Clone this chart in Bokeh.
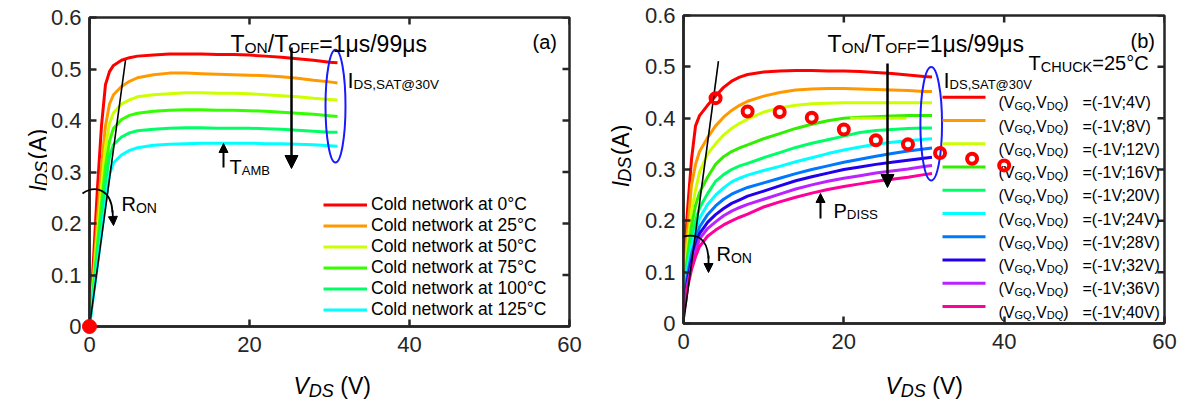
import math
from bokeh.plotting import figure
from bokeh.models import (FixedTicker, Label, Arrow, NormalHead, Legend,
                          LegendItem, Range1d, CustomJSTickFormatter)
from bokeh.layouts import row, column
from bokeh.embed import file_html
from bokeh.resources import INLINE

FONT = "Liberation Sans"
AXC = "#262626"

# ---------------- data: panel (a) ----------------
vds_a = [0, 0.5, 1, 1.5, 2, 2.5, 3, 4, 5, 6, 8, 10, 12, 14, 16, 18, 20, 22, 24, 26, 28, 30, 31]
ids_a_0C = [0, 0.13, 0.27, 0.39, 0.47, 0.495, 0.507, 0.517, 0.522, 0.525, 0.527, 0.529, 0.529, 0.529, 0.528, 0.528, 0.527, 0.525, 0.523, 0.52, 0.517, 0.513, 0.512]
ids_a_25C = [0, 0.1, 0.21, 0.31, 0.39, 0.432, 0.45, 0.466, 0.476, 0.483, 0.489, 0.492, 0.492, 0.491, 0.49, 0.489, 0.488, 0.487, 0.485, 0.482, 0.478, 0.475, 0.473]
ids_a_50C = [0, 0.09, 0.18, 0.27, 0.35, 0.395, 0.415, 0.432, 0.44, 0.446, 0.45, 0.452, 0.454, 0.454, 0.453, 0.453, 0.452, 0.45, 0.448, 0.446, 0.443, 0.441, 0.44]
ids_a_75C = [0, 0.08, 0.16, 0.24, 0.31, 0.36, 0.385, 0.402, 0.41, 0.414, 0.418, 0.42, 0.421, 0.421, 0.42, 0.42, 0.419, 0.418, 0.416, 0.414, 0.412, 0.409, 0.408]
ids_a_100C = [0, 0.07, 0.14, 0.21, 0.28, 0.33, 0.353, 0.368, 0.376, 0.38, 0.383, 0.385, 0.386, 0.386, 0.385, 0.385, 0.385, 0.384, 0.383, 0.381, 0.379, 0.377, 0.377]
ids_a_125C = [0, 0.06, 0.12, 0.18, 0.24, 0.295, 0.318, 0.333, 0.342, 0.347, 0.352, 0.354, 0.355, 0.356, 0.356, 0.356, 0.356, 0.355, 0.355, 0.354, 0.353, 0.351, 0.35]
labels_a = ["Cold network at 0°C", "Cold network at 25°C", "Cold network at 50°C",
            "Cold network at 75°C", "Cold network at 100°C", "Cold network at 125°C"]
colors_a = ["#ff0000", "#ff9900", "#ccff00", "#33ff00", "#00ff66", "#00ffff"]
ron_a_v = [0, 4.5]
ron_a_i = [0, 0.517]
origin_v = [0]
origin_i = [0]

# ---------------- data: panel (b) ----------------
vds_b = [0, 0.25, 0.5, 1, 1.5, 2, 3, 4, 5, 6, 7, 8, 10, 12, 14, 16, 18, 20, 22, 24, 26, 28, 30, 31]
ids_b_4V = [0.1, 0.16, 0.22, 0.32, 0.385, 0.405, 0.425, 0.443, 0.46, 0.472, 0.48, 0.485, 0.49, 0.492, 0.493, 0.493, 0.492, 0.492, 0.491, 0.489, 0.487, 0.484, 0.481, 0.48]
ids_b_8V = [0.09, 0.13, 0.18, 0.27, 0.31, 0.335, 0.362, 0.385, 0.402, 0.415, 0.425, 0.433, 0.443, 0.45, 0.455, 0.457, 0.458, 0.458, 0.457, 0.456, 0.455, 0.454, 0.452, 0.452]
ids_b_12V = [0.08, 0.11, 0.15, 0.22, 0.26, 0.295, 0.33, 0.35, 0.367, 0.38, 0.39, 0.398, 0.412, 0.42, 0.425, 0.428, 0.429, 0.43, 0.43, 0.43, 0.43, 0.43, 0.43, 0.43]
ids_b_16V = [0.07, 0.1, 0.13, 0.19, 0.23, 0.255, 0.285, 0.31, 0.325, 0.335, 0.342, 0.348, 0.36, 0.37, 0.38, 0.388, 0.395, 0.4, 0.402, 0.403, 0.404, 0.405, 0.405, 0.405]
ids_b_20V = [0.06, 0.09, 0.115, 0.165, 0.2, 0.225, 0.253, 0.277, 0.29, 0.3, 0.307, 0.312, 0.323, 0.333, 0.343, 0.351, 0.358, 0.365, 0.372, 0.376, 0.378, 0.38, 0.381, 0.381]
ids_b_24V = [0.05, 0.08, 0.105, 0.15, 0.18, 0.205, 0.232, 0.25, 0.264, 0.276, 0.283, 0.289, 0.298, 0.306, 0.315, 0.323, 0.331, 0.338, 0.344, 0.349, 0.353, 0.356, 0.359, 0.36]
ids_b_28V = [0.045, 0.07, 0.095, 0.135, 0.163, 0.188, 0.212, 0.229, 0.242, 0.252, 0.259, 0.265, 0.274, 0.283, 0.292, 0.3, 0.307, 0.314, 0.32, 0.326, 0.331, 0.336, 0.34, 0.342]
ids_b_32V = [0.04, 0.06, 0.085, 0.122, 0.15, 0.175, 0.197, 0.212, 0.224, 0.234, 0.241, 0.248, 0.258, 0.268, 0.278, 0.286, 0.293, 0.3, 0.305, 0.31, 0.314, 0.318, 0.322, 0.324]
ids_b_36V = [0.03, 0.05, 0.075, 0.113, 0.14, 0.165, 0.185, 0.198, 0.21, 0.219, 0.226, 0.232, 0.242, 0.252, 0.262, 0.27, 0.277, 0.283, 0.288, 0.293, 0.297, 0.301, 0.306, 0.308]
ids_b_40V = [0.02, 0.04, 0.07, 0.105, 0.13, 0.15, 0.17, 0.182, 0.192, 0.2, 0.207, 0.213, 0.227, 0.237, 0.246, 0.254, 0.261, 0.267, 0.272, 0.277, 0.281, 0.285, 0.29, 0.292]
labels_b = ["=(-1V;4V)", "=(-1V;8V)", "=(-1V;12V)", "=(-1V;16V)", "=(-1V;20V)",
            "=(-1V;24V)", "=(-1V;28V)", "=(-1V;32V)", "=(-1V;36V)", "=(-1V;40V)"]
colors_b = ["#ff0000", "#ff9900", "#ccff00", "#33ee00", "#00ff66", "#00ffff",
            "#0077ff", "#2200ee", "#bb22ff", "#ff0099"]
stray_v = [20.8, 27.8]
stray_i = [0.400, 0.400]
circ_v = [4, 8, 12, 16, 20, 24, 28, 32, 36, 40]
circ_i = [0.439, 0.413, 0.412, 0.401, 0.378, 0.357, 0.349, 0.332, 0.321, 0.308]
ron_b_v = [0, 4.36]
ron_b_i = [0, 0.511]

y_ticks = [0, 0.1, 0.2, 0.3, 0.4, 0.5, 0.6]
x_ticks = [0, 20, 40, 60]

# ---------------- helpers ----------------
WID = {' ': 278, '(': 333, ')': 333, ',': 278, '-': 333, '.': 278, '/': 278, ';': 278,
       '=': 584, '@': 1015, '°': 400, 'μ': 576, 'A': 667, 'B': 667, 'C': 722, 'D': 722,
       'F': 611, 'G': 778, 'H': 722, 'I': 278, 'K': 667, 'M': 833, 'N': 722, 'O': 778,
       'P': 667, 'Q': 778, 'R': 722, 'S': 667, 'T': 611, 'U': 722, 'V': 667}


def tw(s, size):
    return sum(WID.get(c, 556) for c in s) * size / 1000.0


class Frame:
    """page-pixel -> data conversion for annotations inside a frame"""
    def __init__(self, fl, fb, w, h):
        self.fl, self.fb, self.w, self.h = fl, fb, w, h

    def dx(self, px):
        return (px - self.fl) / self.w * 60.0

    def dy(self, py):
        return (self.fb - py) / self.h * 0.6


class Strip:
    """page-pixel -> strip coordinates (strip ranges are pixels, y up)"""
    def __init__(self, x0, y0, h):
        self.x0, self.y0, self.h = x0, y0, h

    def dx(self, px):
        return px - self.x0

    def dy(self, py):
        return self.y0 + self.h - py


def rich(p, F, x, y, pieces, angle=0.0, color="black"):
    pos = x if angle == 0 else y
    for text, size, off, style in pieces:
        lead = len(text) - len(text.lstrip(' '))
        adv = tw(' ' * lead, size)
        pos = pos + adv if angle == 0 else pos - adv
        t = text.lstrip(' ')
        if angle == 0:
            lx, ly = F.dx(pos), F.dy(y + off)
            pos += tw(t, size)
        else:
            lx, ly = F.dx(x + off), F.dy(pos)
            pos -= tw(t, size)
        p.add_layout(Label(x=lx, y=ly, text=t, angle=angle, text_font=FONT,
                           text_font_size=f"{size}px", text_font_style=style,
                           text_color=color, text_align="left",
                           text_baseline="alphabetic"))


TOP_H = 364
PAGE_W = 1180
PAGE_H = 400


def make_fig(width, bl, br, bt, bb):
    p = figure(width=width, height=TOP_H, x_range=Range1d(0, 60), y_range=Range1d(0, 0.6),
               output_backend="svg", toolbar_location=None,
               min_border_left=bl, min_border_right=br, min_border_top=bt,
               min_border_bottom=bb)
    p.xgrid.visible = False
    p.ygrid.visible = False
    p.outline_line_color = AXC
    p.outline_line_width = 2.5
    p.xaxis.ticker = FixedTicker(ticks=x_ticks, minor_ticks=[])
    p.yaxis.ticker = FixedTicker(ticks=y_ticks, minor_ticks=[])
    p.yaxis.formatter = CustomJSTickFormatter(code="return tick == 0 ? '0' : tick.toFixed(1);")
    for ax in [p.xaxis[0], p.yaxis[0]]:
        ax.axis_line_width = 2.5
        ax.axis_line_color = AXC
        ax.major_tick_in = 7
        ax.major_tick_out = 0
        ax.major_tick_line_width = 2.5
        ax.major_tick_line_color = AXC
        ax.minor_tick_line_color = None
        ax.major_label_text_font = FONT
        ax.major_label_text_font_size = "22px"
        ax.major_label_text_color = AXC
    p.xaxis.major_label_standoff = 10
    p.yaxis.major_label_standoff = 8
    return p


def mirror_ticks(p, F):
    # inward ticks on the top and right edges, taken from the tick arrays
    tlen_y = 7 / F.h * 0.6
    tlen_x = 7 / F.w * 60.0
    p.segment(x0=x_ticks, y0=[0.6] * len(x_ticks), x1=x_ticks,
              y1=[0.6 - tlen_y] * len(x_ticks), line_color=AXC, line_width=2.5)
    p.segment(x0=[60] * len(y_ticks), y0=y_ticks, x1=[60 - tlen_x] * len(y_ticks),
              y1=y_ticks, line_color=AXC, line_width=2.5)


def strip(width, height):
    s = figure(width=width, height=height, x_range=Range1d(0, width),
               y_range=Range1d(0, height), x_axis_type=None, y_axis_type=None,
               output_backend="svg", toolbar_location=None, min_border=0)
    s.xgrid.visible = False
    s.ygrid.visible = False
    s.outline_line_color = None
    return s


def arrow(p, F, x0, y0, x1, y1, size=12, lw=2.5):
    p.add_layout(Arrow(end=NormalHead(size=size, fill_color="black", line_color="black",
                                      line_width=1),
                       x_start=F.dx(x0), y_start=F.dy(y0), x_end=F.dx(x1), y_end=F.dy(y1),
                       line_width=lw, line_color="black"))


def arc(p, F, pts):
    (x0, y0), (c0x, c0y), (c1x, c1y), (x1, y1) = pts
    p.bezier(x0=[F.dx(x0)], y0=[F.dy(y0)], x1=[F.dx(x1)], y1=[F.dy(y1)],
             cx0=[F.dx(c0x)], cy0=[F.dy(c0y)], cx1=[F.dx(c1x)], cy1=[F.dy(c1y)],
             line_color="black", line_width=1.8, level="overlay")


# ================= panel (a) =================
A_LEFT = 47
FA = Frame(89, 326, 480, 309)
pa = make_fig(588 - A_LEFT, 89 - A_LEFT, 588 - 569, 17, TOP_H - 326)
series_a = [ids_a_0C, ids_a_25C, ids_a_50C, ids_a_75C, ids_a_100C, ids_a_125C]
rends_a = []
for ys, c in zip(series_a, colors_a):
    rends_a.append(pa.line(vds_a, ys, line_color=c, line_width=3))
pa.line(ron_a_v, ron_a_i, line_color="black", line_width=1.6)
pa.ellipse(x=[30.75], y=[0.428], width=[2.5], height=[0.219], fill_alpha=0,
           line_color="#1a1aff", line_width=2)
mirror_ticks(pa, FA)
pa.scatter(origin_v, origin_i, size=14, color="#ff0000", level="overlay")

leg_a = Legend(items=[LegendItem(label=l, renderers=[r]) for l, r in zip(labels_a, rends_a)],
               location=(234, 6), glyph_width=44, glyph_height=21, label_height=21,
               label_standoff=4, spacing=0, padding=0, margin=0,
               border_line_alpha=0, background_fill_alpha=0,
               label_text_font=FONT, label_text_font_size="17.5px",
               label_text_color="black")
pa.add_layout(leg_a)

rich(pa, FA, 230, 43, [("T", 23, 0, "normal"), ("ON", 15.5, 4, "normal"), ("/T", 23, 0, "normal"),
                       ("OFF", 15.5, 4, "normal"), ("=1μs/99μs", 23, 0, "normal")])
rich(pa, FA, 532, 41, [("(a)", 20, 0, "normal")])
rich(pa, FA, 347, 80, [("I", 22, 0, "normal"), ("DS,SAT@30V", 13.5, 4, "normal")])
rich(pa, FA, 229, 166, [("T", 20, 0, "normal"), ("AMB", 13, 4, "normal")])
rich(pa, FA, 121, 203, [("R", 20, 0, "normal"), ("ON", 14, 4, "normal")])
arrow(pa, FA, 291, 47, 291, 168, size=13)
arrow(pa, FA, 223, 167, 223, 143, size=9, lw=2)
arc(pa, FA, [(82, 193), (95, 184), (111, 189), (112, 212)])
arrow(pa, FA, 112, 210, 113, 225, size=9, lw=1.8)

yl_a = strip(A_LEFT, TOP_H)
rich(yl_a, Strip(0, 0, TOP_H), 37, 205, [("I", 23, 0, "italic"), ("DS", 18, 4, "italic"),
                                         (" (A)", 23, 0, "normal")], angle=math.pi / 2)
xl_a = strip(588, PAGE_H - TOP_H)
rich(xl_a, Strip(0, TOP_H, PAGE_H - TOP_H), 293, 385,
     [("V", 23, 0, "italic"), ("DS", 18, 5, "italic"), (" (V)", 23, 0, "normal")])

# ================= panel (b) =================
B_LEFT = 44
FB = Frame(683, 323, 481, 308)
pb = make_fig(PAGE_W - 588 - B_LEFT, 683 - 588 - B_LEFT, PAGE_W - 1164, 15, TOP_H - 323)
series_b = [ids_b_4V, ids_b_8V, ids_b_12V, ids_b_16V, ids_b_20V, ids_b_24V, ids_b_28V,
            ids_b_32V, ids_b_36V, ids_b_40V]
for ys, c in zip(series_b, colors_b):
    pb.line(vds_b, ys, line_color=c, line_width=3)
pb.line(stray_v, stray_i, line_color="#ccff00", line_width=3)
pb.line(ron_b_v, ron_b_i, line_color="black", line_width=1.6)
pb.ellipse(x=[30.9], y=[0.389], width=[2.7], height=[0.221], fill_alpha=0,
           line_color="#1a1aff", line_width=2)
mirror_ticks(pb, FB)

# legend of panel (b): sample lines + labels with subscripts
row_h = 23.26
row0 = 96.7
centers = [row0 + row_h * i for i in range(len(labels_b))]
pb.segment(x0=[FB.dx(942)] * len(centers), x1=[FB.dx(985)] * len(centers),
           y0=[FB.dy(c) for c in centers], y1=[FB.dy(c) for c in centers],
           line_color=colors_b, line_width=3)
for c, lab in zip(centers, labels_b):
    base = c + 5.6
    rich(pb, FB, 998, base, [("(V", 16, 0, "normal"), ("GQ", 11, 3, "normal"),
                             (",V", 16, 0, "normal"), ("DQ", 11, 3, "normal"),
                             (")", 16, 0, "normal")])
    rich(pb, FB, 1082, base, [(lab, 16, 0, "normal")])

pb.scatter(circ_v, circ_i, size=10, line_color="#ff0000", line_width=4, fill_alpha=0,
           level="overlay")

rich(pb, FB, 827, 43, [("T", 23, 0, "normal"), ("ON", 15.5, 4, "normal"), ("/T", 23, 0, "normal"),
                       ("OFF", 15.5, 4, "normal"), ("=1μs/99μs", 23, 0, "normal")])
rich(pb, FB, 1130, 40, [("(b)", 20, 0, "normal")])
rich(pb, FB, 1028, 62, [("T", 20, 0, "normal"), ("CHUCK", 14.5, 4, "normal"),
                        ("=25°C", 20, 0, "normal")])
rich(pb, FB, 943, 80, [("I", 22, 0, "normal"), ("DS,SAT@30V", 13, 4, "normal")])
rich(pb, FB, 833, 210, [("P", 20, 0, "normal"), ("DISS", 13.3, 4, "normal")])
rich(pb, FB, 716, 253, [("R", 20, 0, "normal"), ("ON", 14, 4, "normal")])
arrow(pb, FB, 887, 63, 887, 187, size=13)
arrow(pb, FB, 820, 218, 820, 193, size=9, lw=2)
arc(pb, FB, [(683, 236), (697, 233), (707, 238), (708, 258)])
arrow(pb, FB, 708, 255, 708, 272, size=9, lw=1.8)

yl_b = strip(B_LEFT, TOP_H)
rich(yl_b, Strip(588, 0, TOP_H), 620, 203, [("I", 23, 0, "italic"), ("DS", 18, 4, "italic"),
                                            (" (A)", 23, 0, "normal")], angle=math.pi / 2)
xl_b = strip(PAGE_W - 588, PAGE_H - TOP_H)
rich(xl_b, Strip(588, TOP_H, PAGE_H - TOP_H), 885, 385,
     [("V", 23, 0, "italic"), ("DS", 18, 5, "italic"), (" (V)", 23, 0, "normal")])

layout = row(column(row(yl_a, pa), xl_a), column(row(yl_b, pb), xl_b))
open("out.html", "w").write(file_html(layout, INLINE))
